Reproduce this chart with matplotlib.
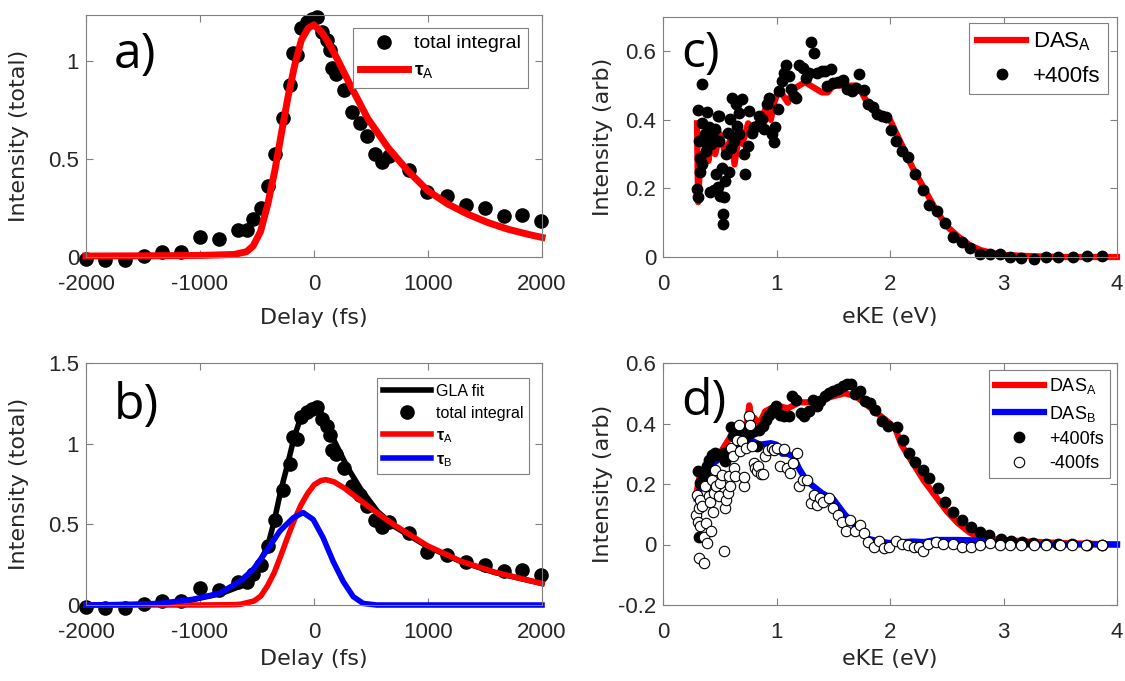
import numpy as np
import matplotlib
matplotlib.use("Agg")
import matplotlib.pyplot as plt
from matplotlib.ticker import FuncFormatter

# ---- panel a / b : delay scan ----
delay = [-1996, -1829, -1662, -1493, -1332, -1165, -996, -829, -668, -592, -534, -469,
         -405, -344, -271, -212, -183, -150, -113, -60, -16, 28, 72, 110, 139, 160, 197,
         262, 335, 402, 467, 531, 598, 656, 832, 993, 1168, 1329, 1496, 1665, 1826, 1993]
total_integral = [-0.012, -0.017, -0.017, 0.006, 0.027, 0.027, 0.103, 0.091, 0.14, 0.14,
                  0.193, 0.25, 0.364, 0.527, 0.711, 0.877, 1.04, 1.03, 1.167, 1.197, 1.213,
                  1.227, 1.15, 1.108, 1.056, 0.962, 0.933, 0.851, 0.74, 0.684, 0.615, 0.527,
                  0.484, 0.513, 0.444, 0.33, 0.313, 0.267, 0.25, 0.21, 0.215, 0.185]

# single exponential fit (panel a)
fit_a_t = [-2000, -1500, -1000, -700, -592, -534, -469, -405, -344, -286, -228, -169,
           -111, -52, -3, 63, 121, 209, 326, 472, 648, 823, 999, 1174, 1350, 1525, 1700,
           1876, 2000]
fit_a_y = [0.005, 0.006, 0.008, 0.013, 0.027, 0.056, 0.13, 0.27, 0.44, 0.63, 0.817, 0.98,
           1.107, 1.167, 1.185, 1.15, 1.1, 1.005, 0.868, 0.706, 0.559, 0.44, 0.338, 0.27,
           0.218, 0.176, 0.142, 0.116, 0.1]

# two-component fit (panel b)
fit_b_t = [-2000, -1500, -1200, -1052, -818, -671, -583, -496, -408, -349, -291, -232,
           -174, -115, -57, 2, 60, 119, 206, 294, 411, 557, 704, 996, 1289, 1582, 2000]
gla_fit = [0.0, 0.003, 0.01, 0.035, 0.07, 0.11, 0.165, 0.24, 0.36, 0.52, 0.71, 0.87, 1.04,
           1.165, 1.217, 1.233, 1.196, 1.10, 0.977, 0.852, 0.717, 0.58, 0.487, 0.362,
           0.269, 0.202, 0.133]
tau_a_t = [-2000, -1000, -700, -642, -525, -466, -408, -349, -291, -232, -174, -115, -57,
           2, 60, 104, 177, 265, 411, 557, 704, 996, 1289, 1582, 2000]
tau_a_y = [0.0, 0.0, 0.002, 0.005, 0.025, 0.056, 0.119, 0.2, 0.306, 0.42, 0.525, 0.619,
           0.69, 0.746, 0.771, 0.777, 0.763, 0.725, 0.646, 0.569, 0.496, 0.367, 0.271,
           0.204, 0.133]
tau_b_t = [-2000, -1600, -1355, -1062, -828, -652, -535, -418, -300, -183, -95, -7, 80,
           168, 256, 344, 431, 548, 700, 2000]
tau_b_y = [0.0, 0.004, 0.01, 0.035, 0.073, 0.146, 0.219, 0.333, 0.458, 0.54, 0.573, 0.53,
           0.417, 0.27, 0.146, 0.052, 0.01, 0.0, 0.0, 0.0]

# ---- panel c ----
c_ev = [0.299, 0.305, 0.305, 0.314, 0.323, 0.328, 0.343, 0.343, 0.343, 0.358, 0.372,
        0.381, 0.387, 0.402, 0.416, 0.422, 0.44, 0.446, 0.46, 0.469, 0.481, 0.481, 0.49,
        0.49, 0.504, 0.519, 0.528, 0.528, 0.54, 0.548, 0.557, 0.569, 0.578, 0.587, 0.598,
        0.607, 0.628, 0.645, 0.651, 0.666, 0.674, 0.695, 0.716, 0.724, 0.745, 0.762,
        0.783, 0.803, 0.827, 0.85, 0.871, 0.891, 0.915, 0.938, 0.959, 0.974, 0.988,
        1.009, 1.026, 1.047, 1.062, 1.085, 1.106, 1.126, 1.15, 1.173, 1.202, 1.232,
        1.261, 1.282, 1.302, 1.326, 1.355, 1.399, 1.428, 1.449, 1.478, 1.501, 1.545,
        1.584, 1.619, 1.663, 1.701, 1.73, 1.771, 1.809, 1.848, 1.889, 1.927, 1.965,
        2.006, 2.053, 2.103, 2.161, 2.22, 2.287, 2.346, 2.41, 2.484, 2.557, 2.63, 2.704,
        2.792, 2.88, 2.968, 3.056, 3.158, 3.267, 3.372, 3.481, 3.613, 3.736, 3.871]
c_plus400 = [0.198, 0.174, 0.428, 0.339, 0.29, 0.247, 0.505, 0.392, 0.271, 0.339, 0.358,
             0.31, 0.424, 0.378, 0.189, 0.329, 0.348, 0.194, 0.373, 0.242, 0.41, 0.203,
             0.411, 0.339, 0.179, 0.261, 0.126, 0.097, 0.174, 0.223, 0.3, 0.363, 0.247,
             0.402, 0.319, 0.465, 0.339, 0.445, 0.382, 0.421, 0.358, 0.46, 0.3, 0.242,
             0.324, 0.426, 0.363, 0.378, 0.382, 0.411, 0.402, 0.373, 0.445, 0.463, 0.358,
             0.334, 0.378, 0.431, 0.484, 0.513, 0.537, 0.561, 0.528, 0.489, 0.47, 0.465,
             0.561, 0.552, 0.523, 0.537, 0.627, 0.595, 0.537, 0.542, 0.542, 0.499, 0.547,
             0.508, 0.51, 0.515, 0.489, 0.484, 0.492, 0.534, 0.486, 0.445, 0.438, 0.416,
             0.411, 0.407, 0.37, 0.339, 0.31, 0.292, 0.242, 0.194, 0.153, 0.134, 0.099,
             0.058, 0.044, 0.027, 0.01, 0.008, 0.008, 0.0, -0.002, -0.005, 0.0, 0.0, 0.0,
             0.002, 0.002]
das_c_ev = [0.30, 0.305, 0.31, 0.33, 0.35, 0.37, 0.40, 0.43, 0.46, 0.50, 0.55, 0.60, 0.63,
            0.67, 0.70, 0.75, 0.80, 0.85, 0.90, 0.95, 0.98, 1.02, 1.06, 1.10, 1.15, 1.20,
            1.25, 1.30, 1.35, 1.40, 1.45, 1.50, 1.60, 1.70, 1.75, 1.80, 1.90, 2.00, 2.10,
            2.20, 2.30, 2.40, 2.50, 2.60, 2.70, 2.80, 2.90, 3.00, 3.20, 3.50, 4.00]
das_c_a = [0.39, 0.25, 0.16, 0.30, 0.25, 0.33, 0.28, 0.35, 0.30, 0.36, 0.30, 0.35, 0.27,
           0.36, 0.33, 0.39, 0.37, 0.39, 0.43, 0.40, 0.45, 0.49, 0.47, 0.45, 0.49, 0.50,
           0.51, 0.50, 0.49, 0.48, 0.48, 0.50, 0.50, 0.50, 0.48, 0.45, 0.42, 0.40, 0.33,
           0.26, 0.20, 0.14, 0.09, 0.06, 0.035, 0.02, 0.012, 0.006, 0.003, 0.0, 0.0]

# ---- panel d ----
d_ev_plus = [0.305, 0.314, 0.328, 0.343, 0.372, 0.387, 0.402, 0.431, 0.46, 0.481, 0.534,
             0.548, 0.598, 0.616, 0.651, 0.68, 0.71, 0.733, 0.768, 0.798, 0.827, 0.85,
             0.88, 0.909, 0.938, 0.968, 0.997, 1.032, 1.068, 1.106, 1.135, 1.173, 1.214,
             1.243, 1.282, 1.32, 1.355, 1.384, 1.428, 1.466, 1.501, 1.545, 1.584, 1.625,
             1.654, 1.692, 1.736, 1.78, 1.824, 1.868, 1.927, 1.985, 2.059, 2.117, 2.17,
             2.22, 2.287, 2.346, 2.425, 2.484, 2.557, 2.63, 2.71, 2.792, 2.874, 2.982,
             3.07, 3.167, 3.26, 3.372, 3.481, 3.607, 3.736, 3.871]
d_plus400 = [0.242, 0.026, 0.203, 0.21, 0.231, 0.258, 0.28, 0.297, 0.302, 0.297, 0.302,
             0.275, 0.389, 0.358, 0.374, 0.385, 0.352, 0.38, 0.369, 0.374, 0.325, 0.38,
             0.391, 0.413, 0.429, 0.446, 0.457, 0.429, 0.424, 0.424, 0.49, 0.479, 0.435,
             0.424, 0.44, 0.479, 0.457, 0.474, 0.49, 0.501, 0.507, 0.514, 0.523, 0.529,
             0.531, 0.496, 0.507, 0.474, 0.468, 0.446, 0.407, 0.391, 0.389, 0.347, 0.302,
             0.272, 0.247, 0.22, 0.187, 0.139, 0.106, 0.082, 0.057, 0.04, 0.032, 0.018,
             0.012, 0.007, 0.004, 0.002, 0.001, 0.001, 0.0, 0.0]
d_ev_minus = [0.299, 0.293, 0.305, 0.314, 0.323, 0.314, 0.358, 0.328, 0.343, 0.358, 0.372,
              0.381, 0.387, 0.402, 0.416, 0.422, 0.431, 0.44, 0.452, 0.46, 0.469, 0.49,
              0.504, 0.519, 0.534, 0.548, 0.557, 0.569, 0.578, 0.592, 0.598, 0.616, 0.628,
              0.637, 0.651, 0.666, 0.68, 0.695, 0.71, 0.716, 0.733, 0.754, 0.768, 0.783,
              0.798, 0.812, 0.827, 0.841, 0.862, 0.88, 0.9, 0.929, 0.959, 0.979, 1.003,
              1.032, 1.068, 1.091, 1.12, 1.144, 1.179, 1.202, 1.232, 1.267, 1.302, 1.326,
              1.355, 1.384, 1.413, 1.466, 1.501, 1.545, 1.575, 1.613, 1.648, 1.692, 1.736,
              1.771, 1.809, 1.859, 1.906, 1.947, 1.994, 2.053, 2.103, 2.161, 2.211, 2.258,
              2.293, 2.337, 2.405, 2.469, 2.551, 2.63, 2.713, 2.792, 2.88, 2.968, 3.056,
              3.158, 3.267, 3.378, 3.496, 3.607, 3.73, 3.871]
d_minus400 = [0.164, 0.098, 0.076, 0.12, 0.06, -0.045, -0.062, 0.148, 0.126, 0.026, 0.192,
              0.071, 0.004, 0.159, 0.142, 0.043, 0.214, 0.109, 0.17, 0.247, 0.192, 0.159,
              0.203, 0.231, -0.023, 0.12, 0.148, 0.17, 0.225, 0.192, 0.319, 0.291, 0.253,
              0.225, 0.347, 0.396, 0.308, 0.341, 0.192, 0.223, 0.319, 0.424, 0.396, 0.325,
              0.269, 0.253, 0.242, 0.258, 0.234, 0.234, 0.291, 0.313, 0.319, 0.313, 0.319,
              0.258, 0.316, 0.253, 0.236, 0.269, 0.302, 0.192, 0.214, 0.214, 0.137, 0.164,
              0.131, 0.153, 0.142, 0.153, 0.12, 0.098, 0.076, 0.043, 0.082, 0.043, 0.065,
              0.038, 0.008, -0.007, 0.013, -0.012, -0.007, 0.01, 0.002, -0.003, -0.009,
              -0.007, -0.02, 0.002, 0.007, 0.002, 0.001, -0.009, -0.009, -0.001, 0.004,
              -0.003, -0.001, -0.001, -0.001, -0.001, -0.001, -0.001, -0.003, -0.003]
das_d_ev = [0.30, 0.32, 0.35, 0.40, 0.45, 0.50, 0.55, 0.60, 0.65, 0.70, 0.74, 0.76, 0.78,
            0.80, 0.85, 0.90, 0.95, 1.00, 1.10, 1.20, 1.30, 1.40, 1.50, 1.60, 1.70, 1.80,
            1.90, 2.00, 2.05, 2.10, 2.20, 2.30, 2.40, 2.50, 2.60, 2.70, 2.80, 3.00, 3.20,
            3.50, 4.00]
das_d_a = [0.18, 0.22, 0.24, 0.27, 0.30, 0.30, 0.33, 0.36, 0.37, 0.38, 0.40, 0.46, 0.41,
           0.42, 0.40, 0.44, 0.45, 0.46, 0.45, 0.47, 0.47, 0.48, 0.49, 0.50, 0.49, 0.46,
           0.43, 0.40, 0.38, 0.33, 0.27, 0.21, 0.16, 0.11, 0.07, 0.04, 0.02, 0.015, 0.01,
           0.005, 0.0]
das_d_b_ev = [0.30, 0.35, 0.45, 0.55, 0.65, 0.75, 0.85, 0.95, 1.00, 1.05, 1.10, 1.15,
              1.20, 1.25, 1.30, 1.40, 1.50, 1.60, 1.70, 1.80, 1.90, 2.00, 2.20, 2.30,
              2.40, 2.60, 2.80, 3.00, 3.20, 4.00]
das_d_b = [0.15, 0.22, 0.27, 0.30, 0.33, 0.35, 0.33, 0.335, 0.33, 0.30, 0.30, 0.29, 0.25,
           0.22, 0.20, 0.17, 0.15, 0.10, 0.06, 0.02, 0.01, 0.005, 0.01, 0.008, 0.015,
           0.015, 0.013, 0.005, 0.0, 0.0]

TICK_FONT = 'Liberation Sans'
LABEL_FONT = 'DejaVu Sans'
LETTER_FONT = 'Open Sans'
SPINE = '#808080'
TXT = '#262626'

plt.rcParams['font.family'] = TICK_FONT
plt.rcParams['mathtext.fontset'] = 'custom'
plt.rcParams['mathtext.rm'] = TICK_FONT
plt.rcParams['mathtext.bf'] = TICK_FONT + ':bold'

fig = plt.figure(figsize=(11.25, 6.81), dpi=100)
W, H = 1125, 681


def make_axes(l, t, r, b):
    return fig.add_axes([l / W, 1 - b / H, (r - l) / W, (b - t) / H])


def style(ax, xlim, ylim, xticks, yticks, xlabel, ylabel, xlab_y, ylab_x):
    ax.set_xlim(xlim)
    ax.set_ylim(ylim)
    ax.set_xticks(xticks)
    ax.set_yticks(yticks)
    fmt = FuncFormatter(lambda v, p: '%g' % round(v, 6))
    ax.xaxis.set_major_formatter(fmt)
    ax.yaxis.set_major_formatter(fmt)
    ax.tick_params(direction='in', top=True, right=True, length=5, width=0.8,
                   color=SPINE, labelsize=16, labelcolor=TXT)
    ax.tick_params(axis='x', pad=12)
    ax.tick_params(axis='y', pad=5)
    for s in ax.spines.values():
        s.set_color(SPINE)
        s.set_linewidth(0.8)
    ax.set_xlabel(xlabel, fontsize=16, family=LABEL_FONT, color=TXT)
    ax.set_ylabel(ylabel, fontsize=16, family=LABEL_FONT, color=TXT)
    ax.xaxis.set_label_coords(0.5, xlab_y)
    ax.yaxis.set_label_coords(ylab_x, 0.5)


def letter(ax, s, x, y):
    ax.text(x, y, s, transform=ax.transAxes, fontsize=36, family=LETTER_FONT,
            color='black', va='baseline', ha='left')


def legend(ax, fs, anchor, hl, ls):
    leg = ax.legend(loc='upper right', bbox_to_anchor=anchor, fontsize=fs, frameon=True,
                    fancybox=False, framealpha=1, edgecolor=SPINE, handlelength=hl,
                    handletextpad=0.3, labelspacing=ls, borderpad=0.35,
                    borderaxespad=0)
    leg.get_frame().set_linewidth(0.8)
    return leg


tauA = r'$\mathbf{\tau}_\mathregular{A}$'
tauB = r'$\mathbf{\tau}_\mathregular{B}$'

# a)
ax = make_axes(86, 15, 542, 257)
ax.plot(delay, total_integral, 'o', color='black', ms=9.5, label='total integral', clip_on=False)
ax.plot(fit_a_t, fit_a_y, '-', color='red', lw=5, label=tauA, clip_on=False)
style(ax, (-2000, 2000), (0, 1.235), [-2000, -1000, 0, 1000, 2000], [0, 0.5, 1],
      'Delay (fs)', 'Intensity (total)', -0.21, -0.125)
letter(ax, 'a)', 0.06, 0.78)
legend(ax, 14, (0.969, 0.946), 2.5, 0.5)

# b)
ax = make_axes(86, 363, 542, 605)
ax.plot(fit_b_t, gla_fit, '-', color='black', lw=4, label='GLA fit', clip_on=False)
ax.plot(delay, total_integral, 'o', color='black', ms=9.5, label='total integral', clip_on=False)
ax.plot(tau_a_t, tau_a_y, '-', color='red', lw=4, label=tauA, clip_on=False)
ax.plot(tau_b_t, tau_b_y, '-', color='blue', lw=4, label=tauB, clip_on=False)
style(ax, (-2000, 2000), (0, 1.5), [-2000, -1000, 0, 1000, 2000], [0, 0.5, 1, 1.5],
      'Delay (fs)', 'Intensity (total)', -0.18, -0.125)
letter(ax, 'b)', 0.06, 0.77)
legend(ax, 11.5, (0.971, 0.938), 3.0, 0.45)

# c)
ax = make_axes(663, 17, 1117, 257)
ax.plot(das_c_ev, das_c_a, '-', color='red', lw=4.5, label=r'DAS$_\mathregular{A}$', clip_on=False)
ax.plot(c_ev, c_plus400, 'o', color='black', ms=7.5, label='+400fs', clip_on=False)
style(ax, (0, 4), (0, 0.7), [0, 1, 2, 3, 4], [0, 0.2, 0.4, 0.6],
      'eKE (eV)', 'Intensity (arb)', -0.21, -0.11)
letter(ax, 'c)', 0.04, 0.79)
legend(ax, 16, (0.98, 0.975), 2.2, 0.55)

# d)
ax = make_axes(663, 363, 1117, 605)
ax.plot(das_d_ev, das_d_a, '-', color='red', lw=4.5, label=r'DAS$_\mathregular{A}$', clip_on=False)
ax.plot(das_d_b_ev, das_d_b, '-', color='blue', lw=4.5, label=r'DAS$_\mathregular{B}$', clip_on=False)
ax.plot(d_ev_plus, d_plus400, 'o', color='black', ms=7.5, label='+400fs', clip_on=False)
ax.plot(d_ev_minus, d_minus400, 'o', mfc='white', mec='black', mew=0.8, ms=7.5,
        label='-400fs', clip_on=False)
style(ax, (0, 4), (-0.2, 0.6), [0, 1, 2, 3, 4], [-0.2, 0, 0.2, 0.4, 0.6],
      'eKE (eV)', 'Intensity (arb)', -0.18, -0.11)
letter(ax, 'd)', 0.04, 0.785)
legend(ax, 13, (0.985, 0.971), 2.7, 0.4)

fig.savefig('out.png', dpi=100)
